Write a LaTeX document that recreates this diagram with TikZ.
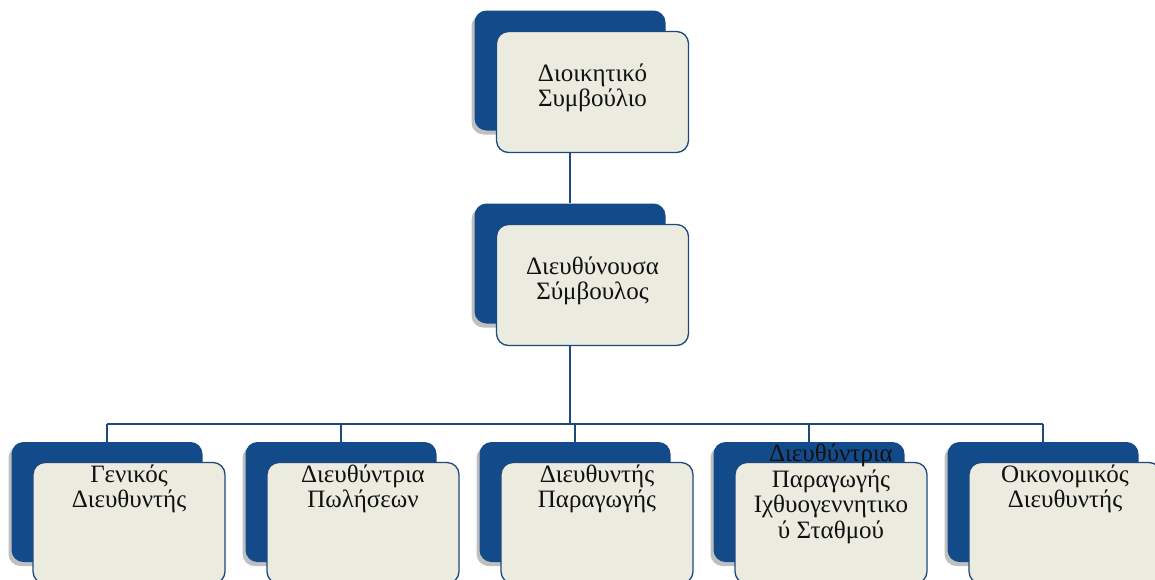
\documentclass[tikz,border=0pt]{standalone}
\usepackage{fontspec}
\setmainfont{Liberation Serif}
\usetikzlibrary{shadows,calc}
\definecolor{backblue}{HTML}{124A8A}
\definecolor{frontfill}{HTML}{EBEBE0}
\definecolor{edgeblue}{HTML}{1F497D}
\definecolor{textcol}{HTML}{111111}
\tikzset{
  backbox/.style={rectangle, rounded corners=12pt, fill=backblue, draw=none,
    minimum width=191pt, minimum height=120pt, inner sep=0pt,
    drop shadow={shadow xshift=-3pt, shadow yshift=-4pt, opacity=0.25, fill=black}},
  frontbox/.style={rectangle, rounded corners=12pt, fill=frontfill, draw=edgeblue,
    line width=1.3pt, minimum width=192pt, minimum height=121pt, inner sep=0pt},
  label/.style={align=center, font=\fontsize{25}{25.5}\selectfont, text=textcol, inner sep=0pt},
  conn/.style={draw=edgeblue, line width=2pt}
}
\begin{document}
\begin{tikzpicture}[x=1pt,y=-1pt]
\useasboundingbox (0,0) rectangle (1155,579);
% top
\node[backbox] (topB) at (570,70.5) {};
\node[frontbox] (topF) at (592.5,92) {};
\node[label] (topT) at (592.5,88) {Διοικητικό\\Συμβούλιο};
% middle
\node[backbox] (midB) at (570,263.5) {};
\node[frontbox] (midF) at (592.5,285) {};
\node[label] (midT) at (592.5,281) {Διευθύνουσα\\Σύμβουλος};
% bottom
\foreach \i/\x in {1/107,2/341,3/575,4/809,5/1043}{
  \node[backbox] (b\i) at (\x,502) {};
  \node[frontbox] (f\i) at (\x+22,523) {};
}
\node[label] (t1) at (129,489) {Γενικός\\Διευθυντής};
\node[label] (t2) at (363,489) {Διευθύντρια\\Πωλήσεων};
\node[label] (t3) at (597,489) {Διευθυντής\\Παραγωγής};
\node[label] (t4) at (831,494) {Διευθύντρια\\Παραγωγής\\Ιχθυογεννητικο\\ύ Σταθμού};
\node[label] (t5) at (1065,489) {Οικονομικός\\Διευθυντής};
% connectors
\coordinate (bus) at (570,424);
\draw[conn] (topB.center |- topF.south) -- (midB.north);
\draw[conn] (midB.center |- midF.south) -- (bus);
\draw[conn] (b1.north |- bus) -- (b5.north |- bus);
\foreach \i in {1,...,5}{
  \draw[conn] (b\i.north |- bus) -- (b\i.north);
}
\end{tikzpicture}
\end{document}
